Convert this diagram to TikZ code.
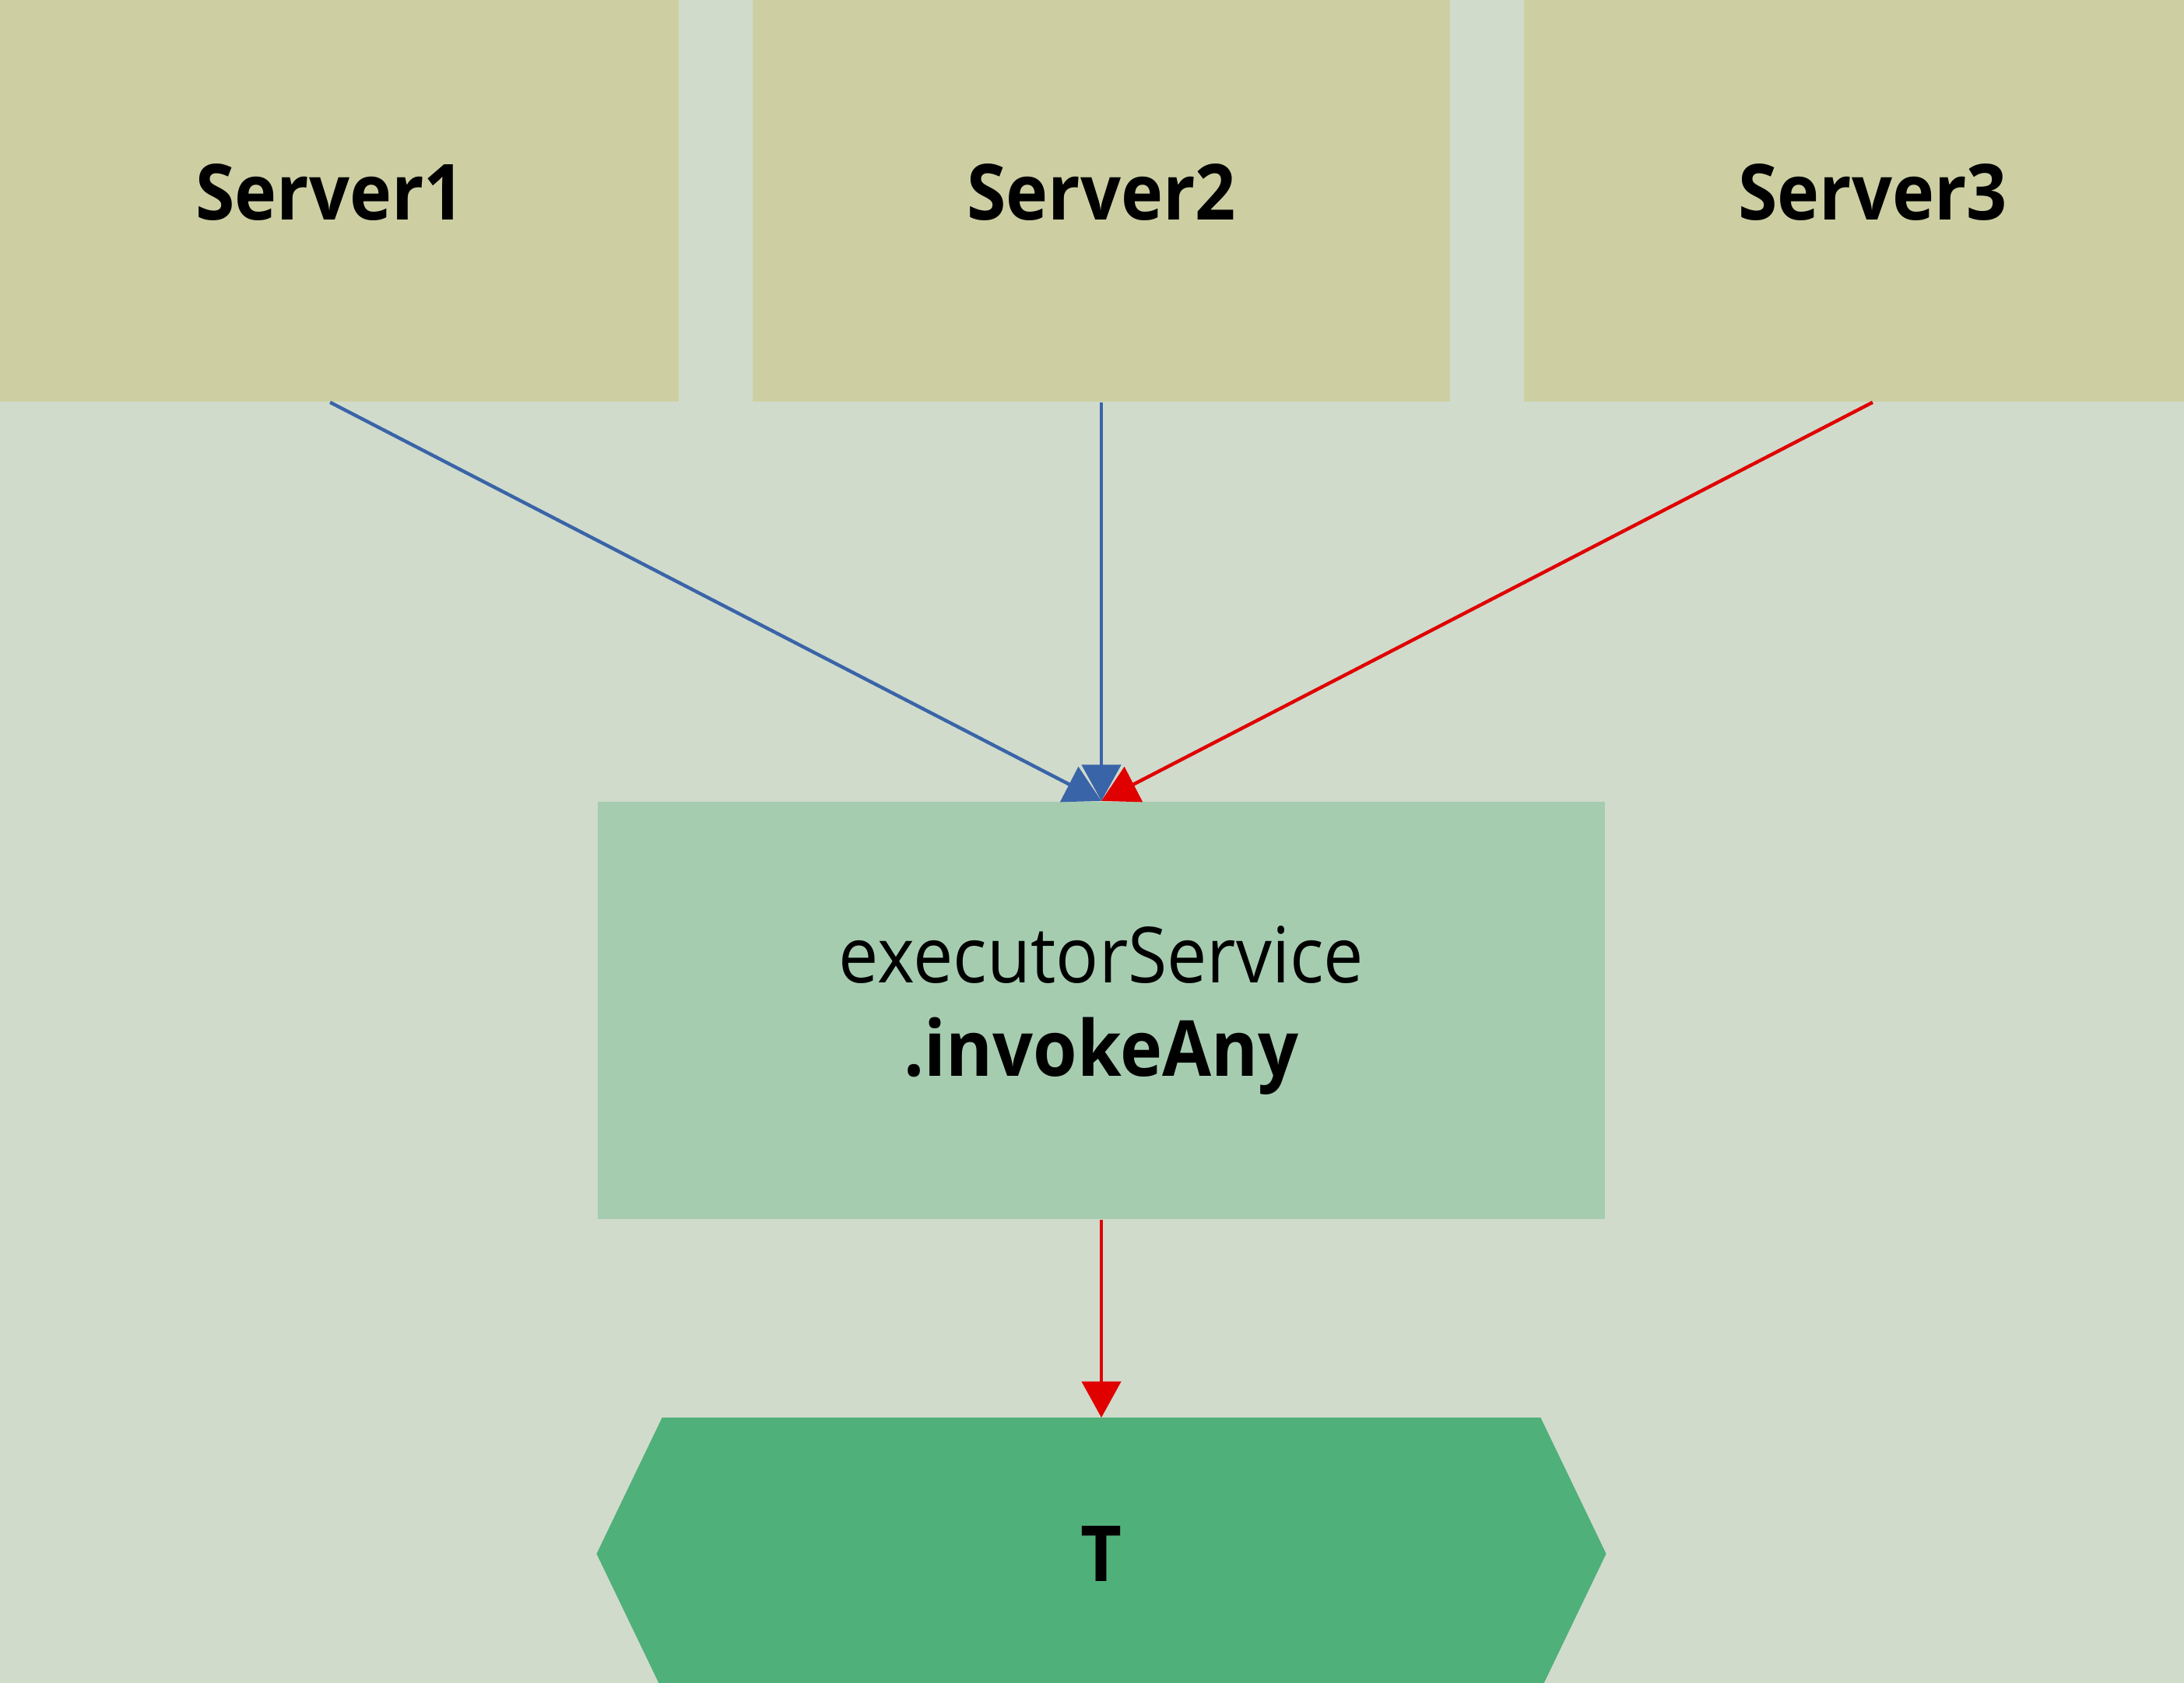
\documentclass[tikz,border=0pt]{standalone}
\usepackage{fontspec}
\setmainfont[FakeStretch=0.92]{Open Sans}
\usepackage{xcolor}
\usetikzlibrary{arrows.meta,positioning,backgrounds}

\definecolor{bgcol}{RGB}{208,219,204}
\definecolor{servercol}{RGB}{205,207,163}
\definecolor{callcol}{RGB}{166,204,176}
\definecolor{resultcol}{RGB}{80,176,121}
\definecolor{okblue}{RGB}{58,100,168}
\definecolor{winred}{RGB}{224,0,0}

\tikzset{
  server/.style={fill=servercol, minimum width=5cm, minimum height=3cm, inner sep=0pt,
                 font=\bfseries\fontsize{15.8}{18.8}\selectfont},
  call/.style={fill=callcol, minimum width=7.23cm, minimum height=2.99cm, inner sep=0pt,
               align=center, font=\fontsize{15.8}{19}\selectfont},
  result/.style={minimum width=7.23cm, minimum height=1.94cm, inner sep=0pt,
                 font=\bfseries\fontsize{15.8}{18.8}\selectfont}
}

\begin{document}
\begin{tikzpicture}[x=0.01cm, y=-0.01cm,
    flow/.style={-{Triangle[length=0.26cm,width=0.28cm]}, line width=0.7pt}]
  \useasboundingbox (0,0) rectangle (1568,1208);
  \clip (0,0) rectangle (1568,1208);
  \begin{scope}[on background layer]
    \fill[bgcol] (0,0) rectangle (1568,1208);
  \end{scope}

  \node[server]         (S1) at (237,138)    {Server1};
  \node[server]         (S2) [right=0.52cm of S1] {Server2};
  \node[server]         (S3) [right=0.52cm of S2] {Server3};
  \node[call]           (inv) [below=2.86cm of S2] {executorService\\\textbf{.invokeAny}};
  \node[result]         (T) [below=1.42cm of inv] {T};

  \begin{scope}[on background layer]
    \fill[resultcol] (T.west) -- ([xshift=0.47cm]T.north west) -- ([xshift=-0.47cm]T.north east)
      -- (T.east) -- ([xshift=-0.47cm]T.south east) -- ([xshift=0.47cm]T.south west) -- cycle;
  \end{scope}

  \draw[flow, okblue] (S1.south) -- (inv.north);
  \draw[flow, okblue] (S2.south) -- (inv.north);
  \draw[flow, winred] (S3.south) -- (inv.north);
  \draw[flow, winred] (inv.south) -- (T.north);
\end{tikzpicture}
\end{document}
